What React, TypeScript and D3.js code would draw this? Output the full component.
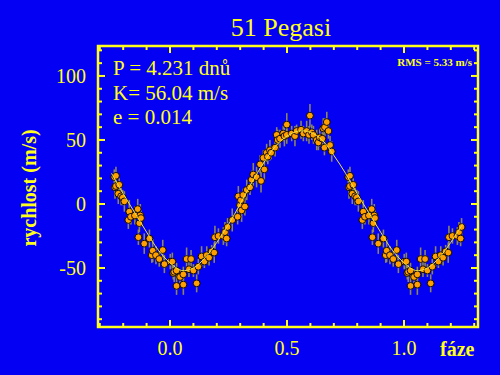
import React, { useEffect, useRef } from 'react';
import * as d3 from 'd3';

const OBS_PHASE = [
  0.001, 0.010, 0.014, 0.018, 0.028, 0.028, 0.043, 0.057, 0.057, 0.071, 0.081, 0.090, 0.100,
  0.114, 0.121, 0.135, 0.147, 0.157, 0.167, 0.178, 0.189, 0.192, 0.207, 0.228, 0.235, 0.242,
  0.246, 0.266, 0.289, 0.292, 0.299, 0.303, 0.306, 0.313, 0.320, 0.328, 0.342, 0.349, 0.356,
  0.370, 0.385, 0.389, 0.399, 0.403, 0.413, 0.418, 0.427, 0.432, 0.449, 0.456, 0.460, 0.470,
  0.484, 0.489, 0.499, 0.499, 0.520, 0.534, 0.541, 0.560, 0.570, 0.584, 0.594, 0.598, 0.606,
  0.613, 0.627, 0.634, 0.640, 0.651, 0.655, 0.660, 0.662, 0.670, 0.677, 0.684, 0.691, 0.762,
  0.765, 0.769, 0.769, 0.779, 0.783, 0.791, 0.798, 0.805, 0.822, 0.826, 0.833, 0.850, 0.862,
  0.865, 0.869, 0.873, 0.876, 0.890, 0.912, 0.922, 0.926, 0.940, 0.954, 0.969, 0.976,
];

// radial velocity (m/s)
const OBS_RV = [
  -45, -45, -54, -53, -52, -64, -57, -63, -55, -43, -51, -43, -52,
  -62, -49, -41, -45, -40, -42, -37, -38, -26, -25, -25, -22, -27,
  -18, -12.5, -10, 6, -1, 3, -5, 7, -2, 11, 13, 19, 23,
  21, 31, 18, 36, 27, 40, 37, 42, 40, 44, 54, 50, 51,
  55, 53, 62, 54, 55, 53, 57, 58, 55, 57, 54, 69, 56,
  54, 50, 48, 52, 51, 59, 44, 60, 64, 57, 46, 41, 21,
  13, 22, 14, 8, 15, 6, 5, 2, -12.5, -6, -10, -9, -4,
  -26, -15, -9, -11, -31, -27, -40, -36.5, -40, -43, -36, -47,
];

// measurement uncertainty (m/s)
const OBS_ERR = [
  6, 7, 5, 8, 6, 7, 5, 8, 6, 9, 6, 7, 5,
  7, 6, 8, 5, 7, 6, 5, 8, 9, 6, 7, 8, 6,
  7, 9, 6, 8, 7, 6, 9, 5, 7, 8, 6, 7, 9,
  8, 7, 9, 6, 8, 7, 6, 8, 5, 7, 6, 8, 7,
  6, 8, 9, 7, 6, 8, 5, 7, 6, 8, 7, 9, 6,
  7, 8, 6, 7, 5, 8, 6, 7, 8, 6, 7, 8, 6,
  9, 7, 6, 8, 5, 7, 6, 8, 7, 9, 6, 7, 8,
  6, 7, 9, 6, 8, 7, 6, 9, 7, 6, 8, 7,
];

// orbital fit, sampled from the drawn curve
const FIT_PHASE = [
  -0.25, -0.2, -0.15, -0.1, -0.05, 0, 0.05, 0.1, 0.15, 0.2, 0.25, 0.3, 0.35, 0.4, 0.45, 0.5,
  0.55, 0.6, 0.65, 0.7, 0.75, 0.8, 0.85, 0.9, 0.95, 1.0, 1.05, 1.1, 1.15, 1.2, 1.25,
];
const FIT_RV = [
  24, 8, -7, -22, -36, -46, -52, -50, -42, -30, -16, 0, 17, 32, 45, 53,
  57, 56, 50, 38, 24, 8, -7, -22, -36, -46, -52, -50, -42, -30, -16,
];

const X_MAJOR = [0, 0.5, 1.0];
const X_LABELS = ['0.0', '0.5', '1.0'];
const Y_MAJOR = [-50, 0, 50, 100];
const Y_LABELS = ['-50', '0', '50', '100'];

const INFO_LINES = ['P = 4.231 dnů', 'K= 56.04 m/s', 'e = 0.014'];

const BLUE = '#0400f4';
const YELLOW = '#ffff1a';
const SERIF = '"Liberation Serif", "Times New Roman", serif';

const App: React.FC = () => {
  const svgRef = useRef<SVGSVGElement>(null);

  useEffect(() => {
    if (!svgRef.current) return;
    const width = 500;
    const height = 375;
    const box = { left: 98, right: 478, top: 46, bottom: 327 };

    const svg = d3.select(svgRef.current);
    svg.selectAll('*').remove();
    svg.attr('width', width).attr('height', height);

    svg.append('rect').attr('width', width).attr('height', height).attr('fill', BLUE);

    const x = d3.scaleLinear().domain([-0.3077, 1.3162]).range([box.left, box.right]);
    const y = d3.scaleLinear().domain([-96.1, 123.4]).range([box.bottom, box.top]);

    // fold the phased data so it covers -0.25 .. 1.25
    const pts: { p: number; v: number; e: number }[] = [];
    OBS_PHASE.forEach((p, i) => {
      const v = OBS_RV[i];
      const e = OBS_ERR[i];
      pts.push({ p, v, e });
      if (p >= 0.75) pts.push({ p: p - 1, v, e });
      if (p <= 0.25) pts.push({ p: p + 1, v, e });
    });

    const plot = svg.append('g');

    plot
      .selectAll('line.err')
      .data(pts)
      .join('line')
      .attr('class', 'err')
      .attr('x1', (d) => x(d.p))
      .attr('x2', (d) => x(d.p))
      .attr('y1', (d) => y(d.v - d.e))
      .attr('y2', (d) => y(d.v + d.e))
      .attr('stroke', '#9a9450')
      .attr('stroke-opacity', 0.9)
      .attr('stroke-width', 1.6);

    plot
      .selectAll('circle')
      .data(pts)
      .join('circle')
      .attr('cx', (d) => x(d.p))
      .attr('cy', (d) => y(d.v))
      .attr('r', 3.4)
      .attr('fill', '#ffa000')
      .attr('stroke', '#000')
      .attr('stroke-width', 0.9);

    const line = d3
      .line<number>()
      .x((_, i) => x(FIT_PHASE[i]))
      .y((d) => y(d))
      .curve(d3.curveCatmullRom);

    plot
      .append('path')
      .attr('d', line(FIT_RV))
      .attr('fill', 'none')
      .attr('stroke', '#e8e448')
      .attr('stroke-width', 1);

    // frame with inward ticks on all four sides
    const axes = svg.append('g').attr('stroke', YELLOW);
    axes
      .append('rect')
      .attr('x', box.left)
      .attr('y', box.top)
      .attr('width', box.right - box.left)
      .attr('height', box.bottom - box.top)
      .attr('fill', 'none')
      .attr('stroke-width', 2.5);

    const xTicks = d3.range(-3, 14).map((k) => k / 10);
    xTicks.forEach((t) => {
      const major = X_MAJOR.some((m) => Math.abs(m - t) < 1e-6);
      const len = major ? 7 : 4;
      axes.append('line').attr('x1', x(t)).attr('x2', x(t)).attr('y1', box.bottom).attr('y2', box.bottom - len).attr('stroke-width', 2);
      axes.append('line').attr('x1', x(t)).attr('x2', x(t)).attr('y1', box.top).attr('y2', box.top + len).attr('stroke-width', 2);
    });

    const yTicks = d3.range(-90, 130, 10);
    yTicks.forEach((t) => {
      const major = Y_MAJOR.includes(t);
      const len = major ? 7 : 4;
      axes.append('line').attr('x1', box.left).attr('x2', box.left + len).attr('y1', y(t)).attr('y2', y(t)).attr('stroke-width', 2);
      axes.append('line').attr('x1', box.right).attr('x2', box.right - len).attr('y1', y(t)).attr('y2', y(t)).attr('stroke-width', 2);
    });

    const text = svg.append('g').attr('fill', YELLOW).attr('font-family', SERIF);

    X_MAJOR.forEach((t, i) => {
      text.append('text').attr('x', x(t)).attr('y', 355).attr('text-anchor', 'middle').attr('font-size', 20).text(X_LABELS[i]);
    });
    Y_MAJOR.forEach((t, i) => {
      text.append('text').attr('x', 86).attr('y', y(t) + 7).attr('text-anchor', 'end').attr('font-size', 20).text(Y_LABELS[i]);
    });

    text
      .append('text')
      .attr('x', 281)
      .attr('y', 36)
      .attr('text-anchor', 'middle')
      .attr('font-size', 26)
      .text('51 Pegasi');

    INFO_LINES.forEach((s, i) => {
      text.append('text').attr('x', 113).attr('y', 75 + i * 24.5).attr('font-size', 21).text(s);
    });

    text
      .append('text')
      .attr('x', 472)
      .attr('y', 66)
      .attr('text-anchor', 'end')
      .attr('font-size', 11)
      .attr('font-weight', 'bold')
      .text('RMS = 5.33 m/s');

    text
      .append('text')
      .attr('transform', 'translate(36,188) rotate(-90)')
      .attr('text-anchor', 'middle')
      .attr('font-size', 20)
      .attr('font-weight', 'bold')
      .text('rychlost (m/s)');

    text
      .append('text')
      .attr('x', 440)
      .attr('y', 356)
      .attr('font-size', 20)
      .attr('font-weight', 'bold')
      .text('fáze');
  }, []);

  return (
    <svg
      ref={svgRef}
      style={{ position: 'fixed', left: 0, top: 0, display: 'block' }}
      role="img"
      aria-label="51 Pegasi radial velocity vs phase"
    />
  );
};

export default App;
